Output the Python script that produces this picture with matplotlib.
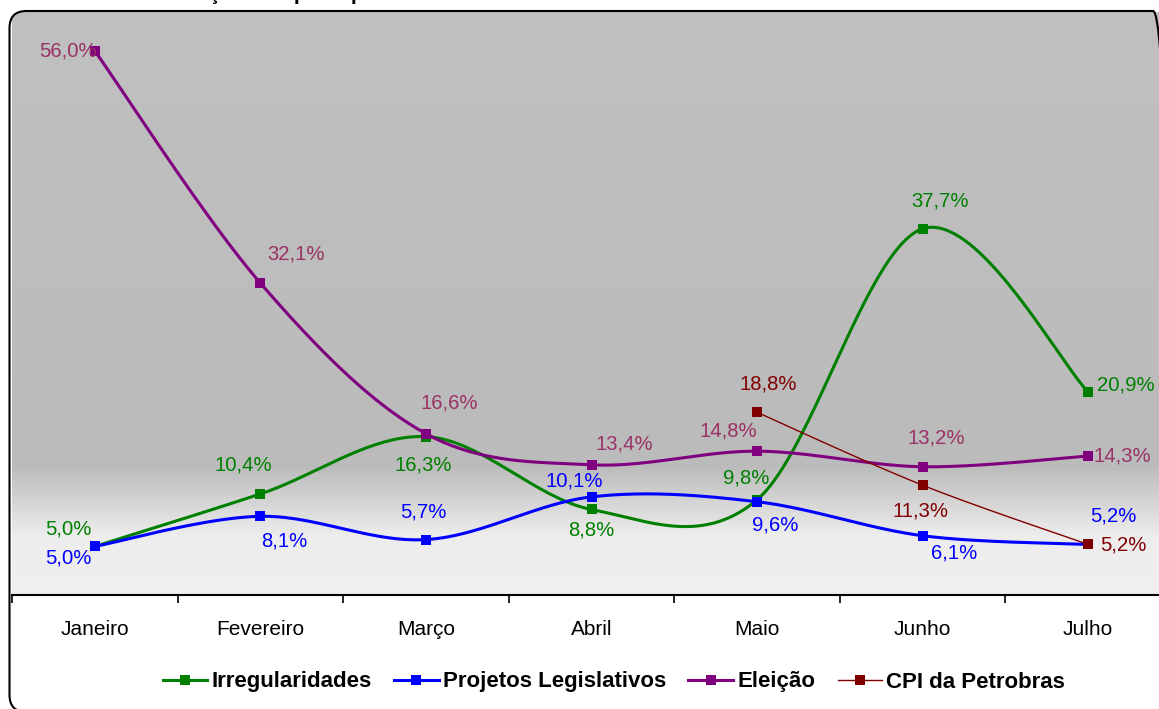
import numpy as np
import matplotlib
matplotlib.use("Agg")
import matplotlib.pyplot as plt
from matplotlib.patches import FancyBboxPatch
from matplotlib.transforms import IdentityTransform
from matplotlib.colors import LinearSegmentedColormap

# ---------------- data ----------------
months = ["Janeiro", "Fevereiro", "Março", "Abril", "Maio", "Junho", "Julho"]
irregularidades = [5.0, 10.4, 16.3, 8.8, 9.8, 37.7, 20.9]
projetos = [5.0, 8.1, 5.7, 10.1, 9.6, 6.1, 5.2]
eleicao = [56.0, 32.1, 16.6, 13.4, 14.8, 13.2, 14.3]
cpi = [None, None, None, None, 18.8, 11.3, 5.2]
series_names = ["Irregularidades", "Projetos Legislativos", "Eleição", "CPI da Petrobras"]
title_text = "Evolução dos principais temas"

# ---------------- styles ----------------
line_colors = ["#008000", "#0000FF", "#800080", "#800000"]
label_colors = ["#008000", "#0000FF", "#993366", "#800000"]
line_widths = [2.2, 2.2, 2.2, 1.0]
# label offsets in pixels (dx right, dy down)
label_offsets = [
    [(-26, -17), (-17, -29), (-3, 28), (0, 21), (-11, -22), (17, -28), (38, -7)],
    [(-26, 12), (24, 25), (-3, -28), (-17, -16), (18, 23), (31, 17), (25, -28)],
    [(-27, 0), (36, -29), (23, -31), (33, -21), (-29, -20), (14, -29), (34, 0)],
    [None, None, None, None, (11, -28), (-2, 26), (35, 1)],
]

FONT = ["Liberation Sans", "DejaVu Sans"]
plt.rcParams["font.family"] = FONT

W, H = 1159, 709
fig = plt.figure(figsize=(W / 100, H / 100), dpi=100)
fig.patch.set_facecolor("white")

ax_left, ax_right, ax_top, ax_bottom = 12, 1171, 12, 595
ax = fig.add_axes([ax_left / W, (H - ax_bottom) / H,
                   (ax_right - ax_left) / W, (ax_bottom - ax_top) / H])
ax.set_facecolor("none")

# rounded chart border
bx0, by0, bw, bh = 9.5, -3, 1170 - 9.5, 701
border = FancyBboxPatch((bx0, by0), bw, bh, boxstyle="round,pad=0,rounding_size=17",
                        transform=IdentityTransform(), facecolor="none",
                        edgecolor="black", linewidth=1.5, zorder=50)
fig.patches.append(border)
clip = FancyBboxPatch((bx0, by0), bw, bh, boxstyle="round,pad=0,rounding_size=17",
                      transform=IdentityTransform(), facecolor="none", edgecolor="none")

# gradient background of plot area
cmap = LinearSegmentedColormap.from_list(
    "bg", [(0.0, "#F0F0F0"), (0.10, "#EDEDED"), (0.22, "#BBBBBB"), (1.0, "#C0C0C0")])
grad = np.linspace(0, 1, 512)[:, None]
im = ax.imshow(grad, cmap=cmap, origin="lower", extent=[0, 1, 0, 1], aspect="auto",
               transform=ax.transAxes, zorder=0, vmin=0, vmax=1)
im.set_clip_path(clip)

x = np.arange(len(months))


def smooth(xs, ys, n=40):
    P = np.column_stack([np.asarray(xs, float), np.asarray(ys, float)])
    k = len(P)
    out = []
    t = np.linspace(0, 1, n)[:, None]
    h00 = 2 * t**3 - 3 * t**2 + 1
    h10 = t**3 - 2 * t**2 + t
    h01 = -2 * t**3 + 3 * t**2
    h11 = t**3 - t**2
    for i in range(k - 1):
        p0 = P[max(i - 1, 0)]
        p1 = P[i]
        p2 = P[i + 1]
        p3 = P[min(i + 2, k - 1)]
        m1 = (p2 - p0) / 2
        m2 = (p3 - p1) / 2
        seg = h00 * p1 + h10 * m1 + h01 * p2 + h11 * m2
        out.append(seg if i == 0 else seg[1:])
    S = np.vstack(out)
    return S[:, 0], S[:, 1]


all_series = [irregularidades, projetos, eleicao, cpi]
handles = []
for si, vals in enumerate(all_series):
    xs = [xi for xi, v in zip(x, vals) if v is not None]
    ys = [v for v in vals if v is not None]
    sx, sy = smooth(xs, ys)
    ax.plot(sx, sy, color=line_colors[si], lw=line_widths[si], zorder=3 + si,
            solid_capstyle="round")
    ax.plot(xs, ys, linestyle="none", marker="s", markersize=6.8,
            color=line_colors[si], markeredgewidth=0, zorder=3 + si)
    h, = ax.plot([], [], color=line_colors[si], lw=line_widths[si], marker="s",
                 markersize=6.5, markeredgewidth=0)
    handles.append(h)
    for xi, v, off in zip(x, vals, label_offsets[si]):
        if v is None:
            continue
        ax.annotate(f"{v:.1f}%".replace(".", ","), (xi, v), xytext=(off[0], -off[1]),
                    textcoords="offset pixels", ha="center", va="center",
                    fontsize=14.6, color=label_colors[si], zorder=20)

ax.set_xlim(-0.5, len(months) - 0.5)
ax.set_ylim(0, 60)
for s in ["top", "left", "right"]:
    ax.spines[s].set_visible(False)
ax.spines["bottom"].set_linewidth(1.5)
ax.spines["bottom"].set_color("black")
ax.set_yticks([])
ax.set_xticks(np.arange(-0.5, len(months)))
ax.set_xticklabels([])
ax.tick_params(axis="x", which="major", direction="out", length=6, width=1.2, color="black")
ax.set_xticks(x, minor=True)
ax.set_xticklabels(months, minor=True, fontsize=15)
ax.tick_params(axis="x", which="minor", length=0, pad=18)

leg = fig.legend(handles, series_names, loc="center", bbox_to_anchor=(614 / W, (H - 682) / H),
                 ncol=4, frameon=False, handlelength=2.0, handletextpad=0.2,
                 columnspacing=1.0, prop={"weight": "bold", "size": 16, "family": FONT})

fig.text(152 / W, 1.0, title_text, ha="left", va="baseline", fontsize=15,
         fontweight="bold", color="black")

fig.savefig("out.png", dpi=100)
